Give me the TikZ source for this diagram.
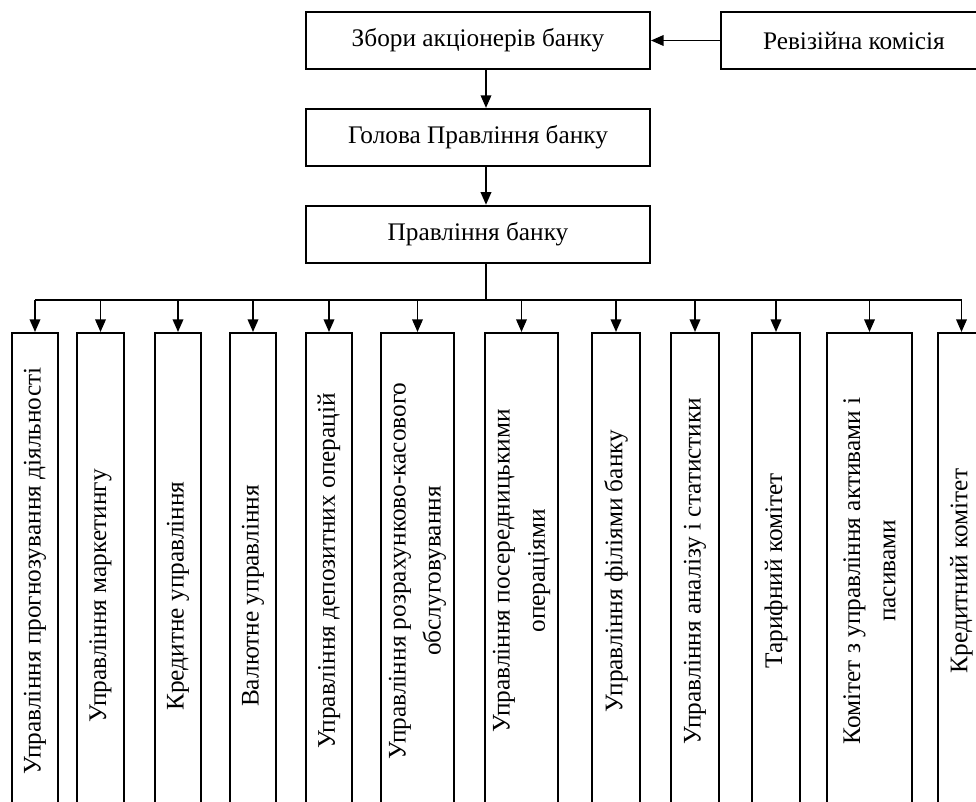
\documentclass[tikz,border=0pt]{standalone}
\usepackage{fontspec}
\setmainfont{Liberation Serif}
\usetikzlibrary{arrows.meta,positioning}

\begin{document}
\begin{tikzpicture}[x=0.025cm,y=-0.025cm,font=\fontsize{18}{25}\selectfont,
 node distance=0.95cm and 1.725cm,line width=1.3pt,
 c/.style={draw,minimum width=8.6cm,minimum height=1.425cm,inner sep=0pt},
 v/.style={draw,rotate=90,anchor=east,minimum width=11.9cm,inner sep=0pt,align=center},
 a/.style={-{Triangle[length=9pt,width=7.5pt]}}]
\useasboundingbox (0,0) rectangle (976,802);
% top of the hierarchy
\node[c](zb) at (478,40.5){Збори акціонерів банку};
\node[c,minimum width=6.65cm,right=of zb](rev){Ревізійна комісія};
\node[c,below=of zb](hol){Голова Правління банку};
\node[c,below=of hol](prav){Правління банку};
\coordinate (tr) at (486,300);
% departments and committees
\node[v,minimum height=1.15cm](u1) at (35,332){Управління прогнозування діяльності};
\node[v,minimum height=1.175cm,minimum width=13.15cm](u2) at (100.5,332){Управління маркетингу};
\node[v,minimum height=1.15cm,minimum width=13.15cm](u3) at (178,332){Кредитне управління};
\node[v,minimum height=1.15cm,minimum width=13.15cm](u4) at (253,332){Валютне управління};
\node[v,minimum height=1.15cm](u5) at (329,332){Управління депозитних операцій};
\node[v,minimum height=1.825cm](u6) at (417.5,332){Управління розрахунково-касового\\обслуговування};
\node[v,minimum height=1.825cm](u7) at (521.5,332){Управління посередницькими\\операціями};
\node[v,minimum height=1.2cm](u8) at (616,332){Управління філіями банку};
\node[v,minimum height=1.2cm](u9) at (695,332){Управління аналізу і статистики};
\node[v,minimum height=1.2cm](u10) at (776,332){Тарифний комітет};
\node[v,minimum height=2.125cm](u11) at (869.5,332){Комітет з управління активами і\\пасивами};
\node[v,minimum height=1.175cm](u12) at (961.5,332){Кредитний комітет};
\draw[a](rev)--(zb);
\draw[a](zb.south -| tr)--(hol.north -| tr);\draw[a](hol.south -| tr)--(prav.north -| tr);
\draw(prav.south -| tr)--(tr);\draw(u1.east |- tr)--(u12.east |- tr);
\draw[a](u1.east |- tr)--(u1.east);\draw[a](u2.east |- tr)--(u2.east);\draw[a](u3.east |- tr)--(u3.east);
\draw[a](u4.east |- tr)--(u4.east);\draw[a](u5.east |- tr)--(u5.east);\draw[a](u6.east |- tr)--(u6.east);
\draw[a](u7.east |- tr)--(u7.east);\draw[a](u8.east |- tr)--(u8.east);\draw[a](u9.east |- tr)--(u9.east);
\draw[a](u10.east |- tr)--(u10.east);\draw[a](u11.east |- tr)--(u11.east);\draw[a](u12.east |- tr)--(u12.east);
\end{tikzpicture}
\end{document}
